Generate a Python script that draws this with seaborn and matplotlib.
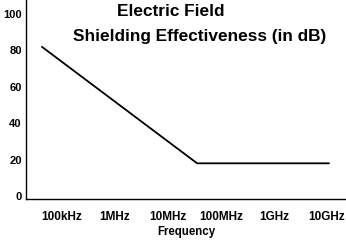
import matplotlib
matplotlib.use("Agg")
import matplotlib.pyplot as plt
import seaborn as sns
import pandas as pd

# Data (x in log10(Hz))
log_freq = [4.62, 7.55, 10.04]
shielding_db = [82, 18, 18]
tick_pos = [5, 6, 7, 8, 9, 10]
tick_labels = ["100kHz", "1MHz", "10MHz", "100MHz", "1GHz", "10GHz"]
y_ticks = [0, 20, 40, 60, 80, 100]

sns.set_theme(style="white")
plt.rcParams['font.family'] = ['Liberation Sans', 'DejaVu Sans']
plt.rcParams['text.color'] = 'black'
plt.rcParams['xtick.color'] = 'black'
plt.rcParams['ytick.color'] = 'black'
plt.rcParams['axes.labelcolor'] = 'black'

df = pd.DataFrame({"f": log_freq, "se": shielding_db})

fig = plt.figure(figsize=(3.46, 2.41), dpi=100)
ax = fig.add_axes([26/346, 42/241, 320/346, 199/241])
sns.lineplot(data=df, x="f", y="se", ax=ax, color="black", linewidth=1.3)

ax.set_xlim(4.32, 10.36)
ax.set_ylim(-1.6, 107.7)
ax.set_xticks(tick_pos)
ax.set_xticklabels(tick_labels, fontsize=8.5, fontweight="bold")
ax.set_yticks(y_ticks)
ax.set_yticklabels([str(v) for v in y_ticks], fontsize=8, fontweight="bold")
ax.tick_params(axis="both", length=0, pad=3)
ax.tick_params(axis="x", pad=9)
ax.set_xlabel("Frequency", fontsize=8.3, fontweight="bold", labelpad=2)
ax.set_ylabel("")
for s in ["top", "right"]:
    ax.spines[s].set_visible(False)
for s in ["left", "bottom"]:
    ax.spines[s].set_color("black")
    ax.spines[s].set_linewidth(1.0)

fig.text(171/346, 1 - 12/241, "Electric Field", ha="center", va="center",
         fontsize=12.4, fontweight="bold")
fig.text(200/346, 1 - 37/241, "Shielding Effectiveness (in dB)", ha="center",
         va="center", fontsize=12.4, fontweight="bold")

fig.savefig("out.png", dpi=100)
